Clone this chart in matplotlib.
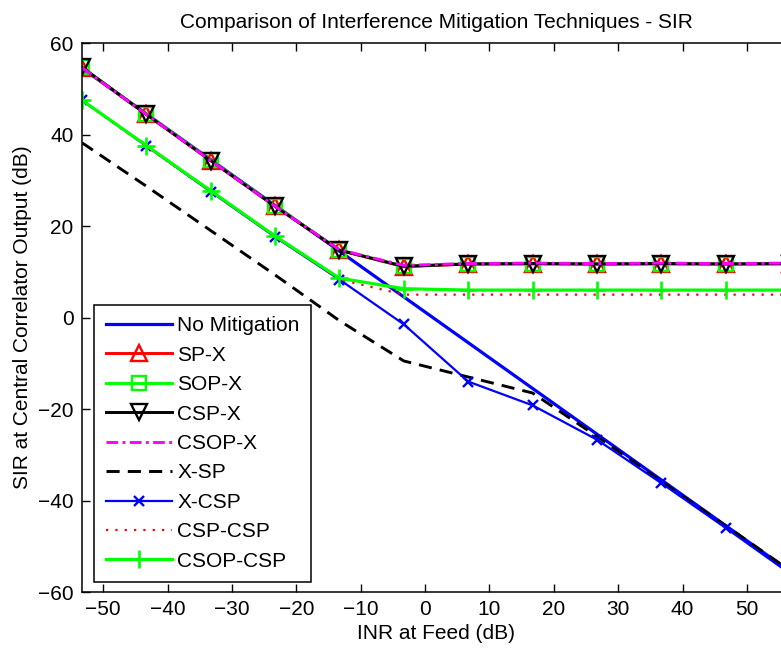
import matplotlib.pyplot as plt

plt.rcParams['font.family'] = ['Liberation Sans', 'DejaVu Sans']

# INR at feed (dB), one sample every 10 dB
inr = [-53.3, -43.3, -33.3, -23.3, -13.3, -3.3, 6.7, 16.7, 26.7, 36.7, 46.7, 56.7]

no_mitigation = [54.5, 44.5, 34.5, 24.5, 14.5, 4.5, -5.5, -15.5, -25.5, -35.5, -45.5, -55.5]
sp_x = [54.6, 44.4, 34.3, 24.3, 14.7, 11.1, 11.7, 11.7, 11.7, 11.7, 11.7, 11.7]
sop_x = [54.7, 44.5, 34.4, 24.4, 14.8, 11.2, 11.8, 11.8, 11.8, 11.8, 11.8, 11.8]
csp_x = [54.7, 44.4, 34.3, 24.3, 14.7, 11.2, 11.7, 11.8, 11.7, 11.8, 11.7, 11.8]
csop_x = [54.6, 44.4, 34.3, 24.3, 14.8, 11.4, 11.8, 11.9, 11.8, 11.9, 11.8, 11.9]
x_sp = [38.2, 28.7, 19.0, 9.3, -0.7, -9.5, -13.0, -16.5, -26.0, -35.8, -45.5, -55.3]
x_csp = [47.5, 37.5, 27.5, 17.6, 8.3, -1.5, -14.0, -19.2, -26.7, -36.2, -46.0, -56.0]
csp_csp = [47.4, 37.4, 27.5, 17.6, 8.3, 5.0, 5.0, 5.0, 5.0, 5.0, 5.0, 5.0]
csop_csp = [47.5, 37.6, 27.7, 17.8, 8.6, 6.3, 6.0, 6.0, 6.0, 6.0, 6.0, 6.0]

green = (0, 1, 0)
magenta = (1, 0, 1)

fig = plt.figure(figsize=(7.81, 6.54), dpi=100)
# axes runs a little past the right border of the figure
ax = fig.add_axes([0.105, 0.0948, 0.9066, 0.8394])

mk = dict(mfc='none', mew=1.7)
ax.plot(inr, no_mitigation, color='b', lw=2.3, label='No Mitigation')
ax.plot(inr, sp_x, color='r', lw=2.1, marker='^', ms=11, label='SP-X', **mk)
ax.plot(inr, sop_x, color=green, lw=2.1, marker='s', ms=10, label='SOP-X', **mk)
ax.plot(inr, csp_x, color='k', lw=2.1, marker='v', ms=11, label='CSP-X', **mk)
ax.plot(inr, csop_x, color=magenta, lw=2.1, ls=(0, (4, 1.5, 1, 1.5)), label='CSOP-X')
ax.plot(inr, x_sp, color='k', lw=2.1, ls=(0, (4.5, 2.8)), label='X-SP')
ax.plot(inr, x_csp, color='b', lw=1.6, marker='x', ms=6.5, mew=1.7, label='X-CSP')
ax.plot(inr, csp_csp, color='r', lw=1.6, ls=(0, (1, 3.2)), label='CSP-CSP')
ax.plot(inr, csop_csp, color=green, lw=2.3, marker='+', ms=13, mew=1.9, label='CSOP-CSP')

ax.set_xlim(-53.3, 56.7)
ax.set_ylim(-60, 60)
ax.set_xticks(range(-50, 60, 10))
ax.set_yticks(range(-60, 61, 20))
ax.tick_params(direction='in', length=5.5, width=1, top=True, right=True,
               labelsize=15, pad=6)
for s in ax.spines.values():
    s.set_linewidth(1.1)

ax.set_title('Comparison of Interference Mitigation Techniques - SIR', fontsize=15, pad=11)
ax.set_xlabel('INR at Feed (dB)', fontsize=15, labelpad=3)
ax.set_ylabel('SIR at Central Correlator Output (dB)', fontsize=15, labelpad=4)

leg = ax.legend(loc='lower left', bbox_to_anchor=(0.017, 0.018), borderaxespad=0,
                fontsize=15, handlelength=3.2, handletextpad=0.25, labelspacing=0.5,
                borderpad=0.55, fancybox=False, framealpha=1, edgecolor='k')
leg.get_frame().set_linewidth(1.1)

fig.savefig('out.png', dpi=100)
